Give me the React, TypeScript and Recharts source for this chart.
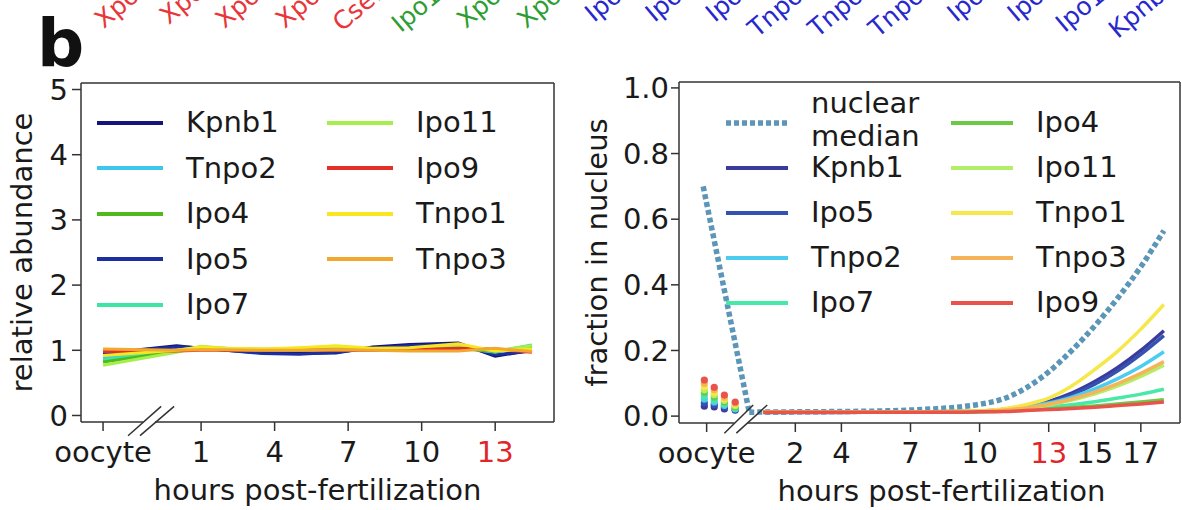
import React from 'react';
import { ComposedChart, Line, Scatter, XAxis, YAxis, ReferenceLine, Legend } from 'recharts';

const FONT = '"DejaVu Sans", Verdana, sans-serif';
const INK = '#1a1a1a';
const SPINE = '#333333';
const RED_TICK = '#e0262b';

// tick labels of the panel above, only their lower ends are visible
const topNames = ['Xpo1', 'Xpot', 'Xpo5', 'Xpo6', 'Cse1l', 'Ipo13', 'Xpo4', 'Xpo7', 'Ipo8', 'Ipo5', 'Ipo7', 'Tnpo1', 'Tnpo2', 'Tnpo3', 'Ipo4', 'Ipo9', 'Ipo11', 'Kpnb1'];
const topColors = ['#e8363a', '#e8363a', '#e8363a', '#e8363a', '#e8363a', '#2e9e34', '#2e9e34', '#2e9e34',
  '#2828cc', '#2828cc', '#2828cc', '#2828cc', '#2828cc', '#2828cc', '#2828cc', '#2828cc', '#2828cc', '#2828cc'];

// ---- left panel: relative abundance ----
const abundanceHours = [-3, 0, 1, 2, 3.5, 5, 6.5, 8, 9.5, 11.5, 13, 14.5];
const kpnb1Abundance = [0.95, 1.07, 1.03, 1.0, 0.96, 0.95, 0.96, 1.05, 1.09, 1.11, 0.91, 1.0];
const ipo5Abundance = [0.96, 1.05, 1.04, 1.0, 0.95, 0.94, 0.97, 1.03, 1.07, 1.09, 0.93, 0.99];
const tnpo2Abundance = [0.88, 1.0, 1.05, 1.02, 1.0, 1.0, 1.02, 1.0, 1.02, 1.04, 0.97, 1.07];
const ipo7Abundance = [0.85, 0.99, 1.05, 1.03, 1.01, 1.0, 1.02, 1.01, 1.03, 1.05, 0.98, 1.08];
const ipo4Abundance = [0.82, 0.98, 1.04, 1.02, 1.01, 1.02, 1.03, 1.01, 1.0, 1.03, 0.98, 1.06];
const ipo11Abundance = [0.77, 0.97, 1.06, 1.03, 1.02, 1.03, 1.05, 1.02, 1.01, 1.06, 0.99, 1.07];
const ipo9Abundance = [0.98, 0.99, 1.0, 1.0, 1.0, 1.01, 1.0, 1.0, 1.01, 1.03, 1.02, 0.97];
const tnpo1Abundance = [0.92, 1.0, 1.05, 1.03, 1.02, 1.04, 1.07, 1.03, 1.04, 1.1, 0.99, 1.02];
const tnpo3Abundance = [1.02, 1.0, 1.01, 1.01, 1.0, 1.0, 1.01, 1.0, 0.99, 0.99, 1.03, 0.98];
const abundanceTicks = [0, 1, 2, 3, 4, 5];
const abundanceHourTicks = [-3, 1, 4, 7, 10, 13];

// ---- right panel: fraction in nucleus ----
const fractionHours = [0.6, 2, 4, 6, 8, 9, 10, 11, 12, 13, 14, 15, 16, 17, 18];
const kpnb1Fraction = [0.012, 0.012, 0.012, 0.012, 0.013, 0.014, 0.015, 0.02, 0.03, 0.045, 0.07, 0.105, 0.148, 0.2, 0.26];
const ipo5Fraction = [0.011, 0.011, 0.011, 0.012, 0.012, 0.013, 0.015, 0.019, 0.028, 0.042, 0.065, 0.097, 0.138, 0.188, 0.245];
const tnpo2Fraction = [0.012, 0.012, 0.012, 0.012, 0.013, 0.014, 0.015, 0.019, 0.027, 0.04, 0.058, 0.083, 0.114, 0.151, 0.196];
const ipo7Fraction = [0.012, 0.012, 0.012, 0.012, 0.012, 0.013, 0.014, 0.016, 0.021, 0.028, 0.035, 0.044, 0.055, 0.067, 0.082];
const ipo4Fraction = [0.012, 0.012, 0.012, 0.012, 0.012, 0.012, 0.013, 0.015, 0.018, 0.022, 0.026, 0.031, 0.037, 0.043, 0.05];
const ipo11Fraction = [0.012, 0.012, 0.012, 0.012, 0.013, 0.014, 0.015, 0.017, 0.024, 0.034, 0.049, 0.068, 0.092, 0.121, 0.155];
const tnpo1Fraction = [0.012, 0.012, 0.012, 0.012, 0.013, 0.014, 0.016, 0.022, 0.035, 0.055, 0.092, 0.142, 0.198, 0.265, 0.34];
const tnpo3Fraction = [0.012, 0.012, 0.012, 0.012, 0.013, 0.014, 0.015, 0.018, 0.025, 0.036, 0.052, 0.073, 0.099, 0.13, 0.166];
const ipo9Fraction = [0.012, 0.012, 0.012, 0.012, 0.012, 0.012, 0.013, 0.014, 0.017, 0.02, 0.023, 0.027, 0.032, 0.037, 0.043];
// nuclear median: straight drop from the oocyte, then a smooth rise
const medianOocyteHours = [-2, 0];
const medianOocyteFraction = [0.7, 0.012];
const medianHours = [0, 2, 4, 6, 8, 9, 10, 11, 12, 13, 14, 15, 16, 17, 18];
const medianFraction = [0.012, 0.013, 0.014, 0.016, 0.022, 0.027, 0.036, 0.052, 0.085, 0.135, 0.2, 0.275, 0.36, 0.455, 0.565];
// oocyte dots, four columns per protein
const oocyteColumns = [-1.95, -1.52, -1.08, -0.61];
const kpnb1Oocyte = [0.03, 0.028, 0.022, 0.018];
const ipo5Oocyte = [0.04, 0.035, 0.028, 0.02];
const tnpo2Oocyte = [0.052, 0.043, 0.033, 0.022];
const ipo7Oocyte = [0.062, 0.05, 0.038, 0.025];
const ipo4Oocyte = [0.072, 0.058, 0.043, 0.028];
const ipo11Oocyte = [0.08, 0.065, 0.048, 0.032];
const tnpo1Oocyte = [0.09, 0.072, 0.053, 0.036];
const tnpo3Oocyte = [0.1, 0.08, 0.058, 0.04];
const ipo9Oocyte = [0.11, 0.088, 0.064, 0.043];
const fractionTicks = [0, 0.2, 0.4, 0.6, 0.8, 1.0];
const fractionHourTicks = [-1.85, 2, 4, 7, 10, 13, 15, 17];

const toPoints = (xs: number[], ys: number[]) => xs.map((x, i) => ({ x, y: ys[i] }));

const abundanceSeries = [
  { name: 'Kpnb1', color: '#14147a', values: kpnb1Abundance },
  { name: 'Ipo5', color: '#1d2f9f', values: ipo5Abundance },
  { name: 'Tnpo2', color: '#3ec6ee', values: tnpo2Abundance },
  { name: 'Ipo7', color: '#3ce6a2', values: ipo7Abundance },
  { name: 'Ipo4', color: '#4fba1c', values: ipo4Abundance },
  { name: 'Ipo11', color: '#a6ee4c', values: ipo11Abundance },
  { name: 'Ipo9', color: '#e5302a', values: ipo9Abundance },
  { name: 'Tnpo1', color: '#f8e620', values: tnpo1Abundance },
  { name: 'Tnpo3', color: '#f0a92e', values: tnpo3Abundance },
];

const fractionSeries = [
  { name: 'Kpnb1', color: '#3b3b9e', values: kpnb1Fraction, oocyte: kpnb1Oocyte },
  { name: 'Ipo5', color: '#3552b0', values: ipo5Fraction, oocyte: ipo5Oocyte },
  { name: 'Tnpo2', color: '#4ccdf0', values: tnpo2Fraction, oocyte: tnpo2Oocyte },
  { name: 'Ipo7', color: '#48e8a8', values: ipo7Fraction, oocyte: ipo7Oocyte },
  { name: 'Ipo4', color: '#6ec848', values: ipo4Fraction, oocyte: ipo4Oocyte },
  { name: 'Ipo11', color: '#b2ee68', values: ipo11Fraction, oocyte: ipo11Oocyte },
  { name: 'Tnpo1', color: '#f6e84a', values: tnpo1Fraction, oocyte: tnpo1Oocyte },
  { name: 'Tnpo3', color: '#f6b45a', values: tnpo3Fraction, oocyte: tnpo3Oocyte },
  { name: 'Ipo9', color: '#e8544c', values: ipo9Fraction, oocyte: ipo9Oocyte },
];
const MEDIAN_COLOR = '#5b95b8';

const colorOf = (list: { name: string; color: string }[], name: string) =>
  list.find((s) => s.name === name)!.color;

const XTick = (props: any) => {
  const { x, y, payload } = props;
  const v = payload.value;
  return (
    <text x={x} y={y} dy={21} textAnchor="middle" fontSize={29} fontFamily={FONT}
      fill={v === 13 ? RED_TICK : INK}>
      {v < 0 ? 'oocyte' : String(v)}
    </text>
  );
};

const YTitle = (props: any) => {
  const { viewBox, text, dx } = props;
  const cx = viewBox.x + dx;
  const cy = viewBox.y + viewBox.height / 2;
  return (
    <text transform={`translate(${cx}, ${cy}) rotate(-90)`} textAnchor="middle" dominantBaseline="central"
      fontSize={29} fontFamily={FONT} fill={INK}>{text}</text>
  );
};

const XTitle = (props: any) => {
  const { viewBox, text, dx, dy } = props;
  return (
    <text x={viewBox.x + viewBox.width / 2 + dx} y={viewBox.y + dy} textAnchor="middle"
      fontSize={29} fontFamily={FONT} fill={INK}>{text}</text>
  );
};

type Entry = { label: string[]; color: string; dotted?: boolean };

const LegendBox = ({ columns, rowH, colW, handleW }: { columns: Entry[][]; rowH: number; colW: number; handleW: number }) => (
  <div style={{ display: 'flex', fontFamily: FONT, fontSize: 29, color: INK }}>
    {columns.map((col, ci) => (
      <div key={ci} style={{ width: colW, display: 'flex', flexDirection: 'column' }}>
        {col.map((e) => (
          <div key={e.label.join(' ')} style={{ height: rowH, display: 'flex', alignItems: 'center' }}>
            <svg width={handleW} height={10} style={{ flex: 'none' }}>
              <line x1={0} y1={5} x2={handleW} y2={5} stroke={e.color}
                strokeWidth={e.dotted ? 5.5 : 4} strokeDasharray={e.dotted ? '5 3' : undefined} />
            </svg>
            <div style={{
              marginLeft: 23, lineHeight: e.label.length > 1 ? '33px' : '31px', whiteSpace: 'nowrap',
              transform: e.label.length > 1 ? 'translateY(-3px)' : undefined,
            }}>
              {e.label.map((l) => <div key={l}>{l}</div>)}
            </div>
          </div>
        ))}
      </div>
    ))}
  </div>
);

const spine = { stroke: SPINE, strokeWidth: 1.5, ifOverflow: 'visible' as const };

const AbundanceChart = () => {
  const xMin = -3.9, xMax = 15.4, yMin = -0.1, yMax = 5.1;
  const leftCols: Entry[][] = [
    ['Kpnb1', 'Tnpo2', 'Ipo4', 'Ipo5', 'Ipo7'].map((n) => ({ label: [n], color: colorOf(abundanceSeries, n) })),
    ['Ipo11', 'Ipo9', 'Tnpo1', 'Tnpo3'].map((n) => ({ label: [n], color: colorOf(abundanceSeries, n) })),
  ];
  return (
    <ComposedChart width={580} height={510} margin={{ top: 83, right: 26, bottom: 0, left: 0 }}>
      <XAxis type="number" dataKey="x" domain={[xMin, xMax]} ticks={abundanceHourTicks} interval={0}
        allowDataOverflow axisLine={false} tickSize={9} tickMargin={10} height={88}
        tickLine={{ stroke: SPINE, strokeWidth: 1.5 }} tick={<XTick />}
        label={<XTitle text="hours post-fertilization" dx={0} dy={78} />} />
      <YAxis type="number" dataKey="y" domain={[yMin, yMax]} ticks={abundanceTicks} interval={0}
        allowDataOverflow width={81} tickSize={9} tickMargin={4}
        axisLine={{ stroke: SPINE, strokeWidth: 1.5 }} tickLine={{ stroke: SPINE, strokeWidth: 1.5 }}
        tick={{ fontSize: 29, fontFamily: FONT, fill: INK }}
        label={<YTitle text="relative abundance" dx={22} />} />
      {abundanceSeries.map((s) => (
        <Line key={s.name} data={toPoints(abundanceHours, s.values)} dataKey="y" name={s.name}
          type="linear" stroke={s.color} strokeWidth={3} dot={false} isAnimationActive={false} />
      ))}
      <ReferenceLine y={yMax} {...spine} />
      <ReferenceLine x={xMax} {...spine} />
      <ReferenceLine segment={[{ x: xMin, y: yMin }, { x: -1.37, y: yMin }]} {...spine} />
      <ReferenceLine segment={[{ x: -0.88, y: yMin }, { x: xMax, y: yMin }]} {...spine} />
      <ReferenceLine segment={[{ x: -1.98, y: -0.31 }, { x: -0.63, y: 0.14 }]} {...spine} />
      <ReferenceLine segment={[{ x: -1.49, y: -0.31 }, { x: -0.1, y: 0.14 }]} {...spine} />
      <Legend verticalAlign="middle" layout="horizontal"
        wrapperStyle={{ left: 97, top: 100, width: 460 }}
        content={() => <LegendBox columns={leftCols} rowH={45.5} colW={251} handleW={66} />} />
    </ComposedChart>
  );
};

const FractionChart = () => {
  const xMin = -3.05, xMax = 18.7, yMin = -0.021, yMax = 1.018;
  const byName = (n: string): Entry => ({ label: [n], color: colorOf(fractionSeries, n) });
  const rightCols: Entry[][] = [
    [{ label: ['nuclear', 'median'], color: MEDIAN_COLOR, dotted: true }, ...['Kpnb1', 'Ipo5', 'Tnpo2', 'Ipo7'].map(byName)],
    ['Ipo4', 'Ipo11', 'Tnpo1', 'Tnpo3', 'Ipo9'].map(byName),
  ];
  return (
    <ComposedChart width={602} height={510} margin={{ top: 82, right: 2, bottom: 0, left: 0 }}>
      <XAxis type="number" dataKey="x" domain={[xMin, xMax]} ticks={fractionHourTicks} interval={0}
        allowDataOverflow axisLine={false} tickSize={9} tickMargin={10} height={87}
        tickLine={{ stroke: SPINE, strokeWidth: 1.5 }} tick={<XTick />}
        label={<XTitle text="hours post-fertilization" dx={12} dy={78} />} />
      <YAxis type="number" dataKey="y" domain={[yMin, yMax]} ticks={fractionTicks} interval={0}
        allowDataOverflow width={99} tickSize={8} tickMargin={2}
        axisLine={{ stroke: SPINE, strokeWidth: 1.5 }} tickLine={{ stroke: SPINE, strokeWidth: 1.5 }}
        tickFormatter={(v: number) => v.toFixed(1)}
        tick={{ fontSize: 29, fontFamily: FONT, fill: INK }}
        label={<YTitle text="fraction in nucleus" dx={17} />} />
      <Line data={toPoints(medianOocyteHours, medianOocyteFraction)} dataKey="y" name="nuclear median oocyte"
        type="linear" stroke={MEDIAN_COLOR} strokeWidth={5.5} strokeDasharray="5 3" dot={false}
        isAnimationActive={false} />
      <Line data={toPoints(medianHours, medianFraction)} dataKey="y" name="nuclear median"
        type="monotone" stroke={MEDIAN_COLOR} strokeWidth={5.5} strokeDasharray="5 3" dot={false}
        isAnimationActive={false} />
      {fractionSeries.map((s) => (
        <Line key={s.name} data={toPoints(fractionHours, s.values)} dataKey="y" name={s.name}
          type="monotone" stroke={s.color} strokeWidth={3.5} dot={false} isAnimationActive={false} />
      ))}
      {fractionSeries.map((s) => (
        <Scatter key={'o' + s.name} data={toPoints(oocyteColumns, s.oocyte)} dataKey="y" name={s.name + ' oocyte'}
          isAnimationActive={false}
          shape={(p: any) => <circle cx={p.cx} cy={p.cy} r={3.6} fill={s.color} />} />
      ))}
      <ReferenceLine y={yMax} {...spine} />
      <ReferenceLine x={xMax} {...spine} />
      <ReferenceLine segment={[{ x: xMin, y: yMin }, { x: -0.65, y: yMin }]} {...spine} />
      <ReferenceLine segment={[{ x: -0.09, y: yMin }, { x: xMax, y: yMin }]} {...spine} />
      <ReferenceLine segment={[{ x: -1.08, y: -0.052 }, { x: 0.17, y: 0.034 }]} {...spine} />
      <ReferenceLine segment={[{ x: -0.56, y: -0.052 }, { x: 0.78, y: 0.034 }]} {...spine} />
      <Legend verticalAlign="middle" layout="horizontal"
        wrapperStyle={{ left: 146, top: 100, width: 450 }}
        content={() => <LegendBox columns={rightCols} rowH={45} colW={237} handleW={62} />} />
    </ComposedChart>
  );
};

const TopStrip = () => (
  <svg width={1182} height={80} style={{ position: 'absolute', left: 0, top: 0 }}>
    {topNames.map((n, i) => {
      const x = 153 + i * 60.35;
      const y = -12;
      return (
        <text key={n + i} x={x} y={y} textAnchor="end" fontSize={25} fontFamily={FONT} fill={topColors[i]}
          transform={`rotate(-40, ${x}, ${y})`}>{n}</text>
      );
    })}
    <text x={37} y={66} fontSize={66} fontWeight="bold" fontFamily={FONT} fill="#111">b</text>
  </svg>
);

export default function App() {
  return (
    <div style={{ position: 'relative', width: 1182, height: 510, overflow: 'hidden', background: '#fff', fontFamily: FONT }}>
      <style>{'body{margin:0}'}</style>
      <div style={{ position: 'absolute', left: 0, top: 0 }}>
        <AbundanceChart />
      </div>
      <div style={{ position: 'absolute', left: 580, top: 0 }}>
        <FractionChart />
      </div>
      <TopStrip />
    </div>
  );
}
